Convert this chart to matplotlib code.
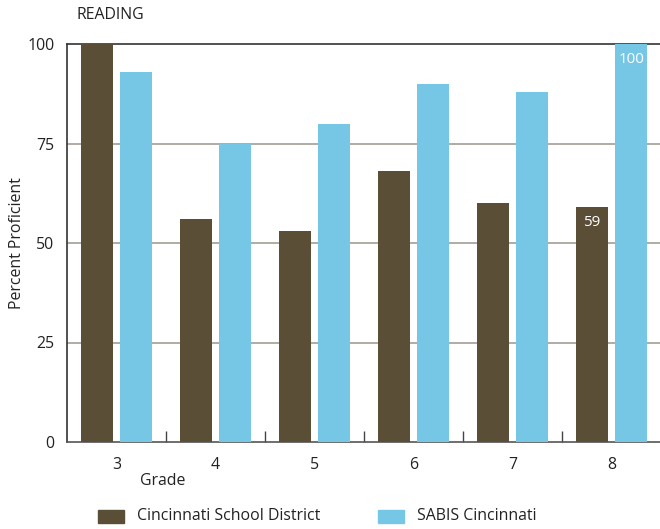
import matplotlib
matplotlib.use("Agg")
import matplotlib.pyplot as plt
import numpy as np
from matplotlib.patches import Rectangle

grades = ["3", "4", "5", "6", "7", "8"]
cincinnati = [100, 56, 53, 68, 60, 59]
sabis = [93, 75, 80, 90, 88, 100]
yticks = [0, 25, 50, 75, 100]

c_dark = "#5a4e37"
c_blue = "#76c7e6"
grid_c = "#a39e93"
fs = 11.4

plt.rcParams['font.family'] = ['Open Sans', 'DejaVu Sans']

fig = plt.figure(figsize=(6.6, 5.29), dpi=100)
W, H = 660, 529
ax = fig.add_axes([67 / W, 1 - 442 / H, (661 - 67) / W, (442 - 44) / H])

x = np.arange(len(grades))
bw = 0.32
ax.bar(x - 0.2, cincinnati, bw, color=c_dark, zorder=3)
ax.bar(x + 0.2, sabis, bw, color=c_blue, zorder=3)

ax.set_xlim(-0.5, len(grades) - 0.5)
ax.set_ylim(0, 100)

for v in yticks[1:-1]:
    ax.axhline(v, color=grid_c, lw=1.2, zorder=1)

ax.set_yticks(yticks)
ax.set_yticklabels([str(v) for v in yticks], fontsize=fs, color="#222222")
ax.tick_params(axis='y', length=0, pad=9)

ax.set_xticks(x)
ax.set_xticklabels(grades, fontsize=fs, color="#222222")
ax.tick_params(axis='x', length=0, pad=11)
ax.set_xticks(np.arange(0.5, len(grades) - 0.5, 1), minor=True)
ax.tick_params(axis='x', which='minor', direction='in', length=8, color="#444444", width=1)

ax.spines['right'].set_visible(False)
ax.spines['left'].set_color("#333333")
ax.spines['top'].set_color("#333333")
ax.spines['bottom'].set_color("#555555")
for s in ['left', 'top', 'bottom']:
    ax.spines[s].set_linewidth(1.2)

# value labels
ax.text(x[5] - 0.2, cincinnati[5] - 2, str(cincinnati[5]), color="white",
        ha="center", va="top", fontsize=fs - 0.5, zorder=4)
ax.text(x[5] + 0.2, sabis[5] - 2, str(sabis[5]), color="white",
        ha="center", va="top", fontsize=fs - 0.5, zorder=4)

fig.text(77 / W, 1 - 15 / H, "READING", fontsize=fs, ha="left", va="center", color="#222222")
fig.text(17 / W, 1 - 243 / H, "Percent Proficient", fontsize=fs, rotation=90,
         ha="center", va="center", color="#222222")
fig.text(163 / W, 1 - 481 / H, "Grade", fontsize=fs, ha="center", va="center", color="#222222")

# legend
fig.patches.append(Rectangle((98 / W, 1 - 523 / H), 26 / W, 13 / H, transform=fig.transFigure,
                             color=c_dark, figure=fig))
fig.text(137 / W, 1 - 516 / H, "Cincinnati School District", fontsize=fs, ha="left",
         va="center", color="#222222")
fig.patches.append(Rectangle((378 / W, 1 - 523 / H), 26 / W, 13 / H, transform=fig.transFigure,
                             color=c_blue, figure=fig))
fig.text(417 / W, 1 - 516 / H, "SABIS Cincinnati", fontsize=fs, ha="left",
         va="center", color="#222222")

fig.savefig("out.png", dpi=100)
